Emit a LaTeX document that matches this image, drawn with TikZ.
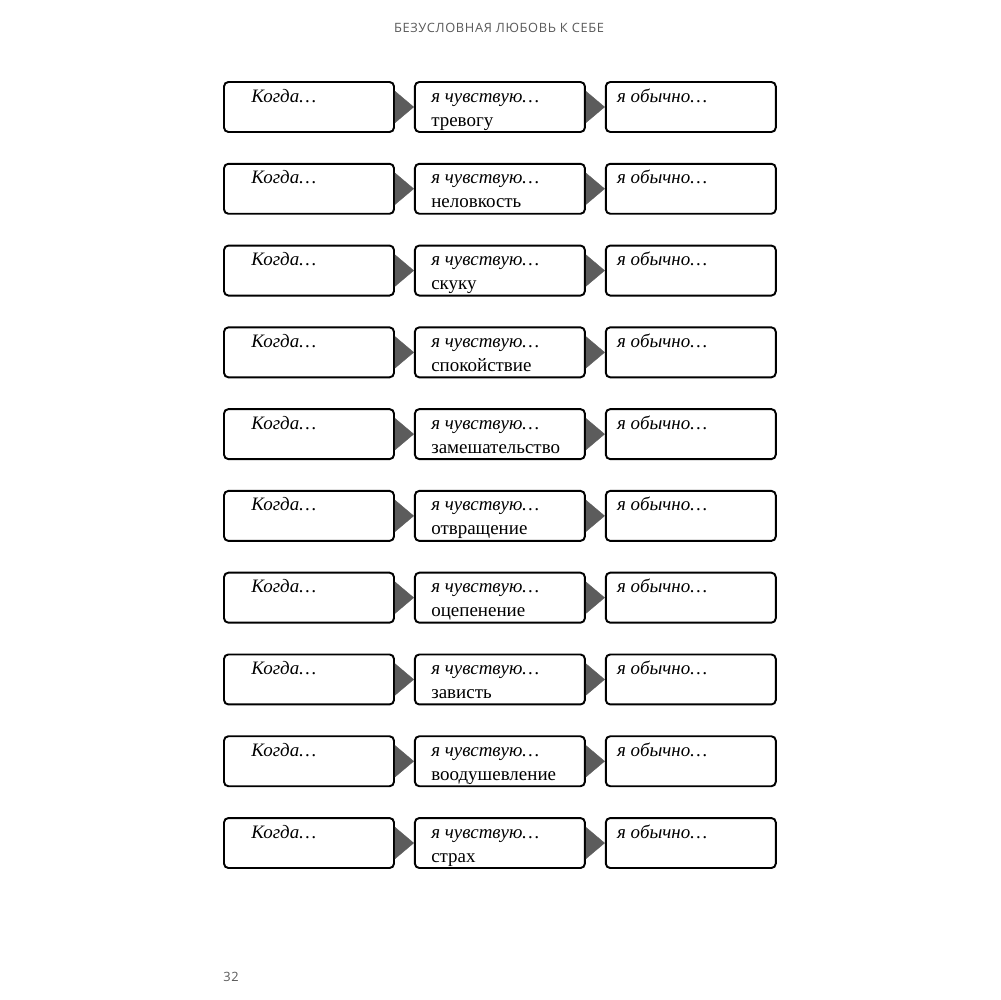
\documentclass[tikz,border=0pt]{standalone}
\usepackage{fontspec}
\setmainfont{Liberation Serif}
\newfontfamily\headfont[LetterSpace=5]{Open Sans}
\usetikzlibrary{arrows.meta,positioning}
\definecolor{headgray}{HTML}{5A5A5A}
\definecolor{arrowgray}{HTML}{5C5C5C}

\begin{document}
\begin{tikzpicture}[
    x=0.02cm, y=-0.02cm,
    node distance=0.38cm,
    box/.style={draw, line width=1.1pt, rounded corners=2.5pt, minimum width=3.4cm, minimum height=1cm, inner sep=0pt},
    lead/.style={anchor=base west, inner sep=0pt, font=\fontsize{10.8}{13}\selectfont\itshape},
    feel/.style={anchor=base west, inner sep=0pt, font=\fontsize{10.8}{13}\selectfont},
    link/.style={-{Triangle[length=0.38cm, width=0.64cm]}, line width=0.2pt, arrowgray}
]
\fill[white] (0,0) rectangle (1000,1000);
\useasboundingbox (0,0) rectangle (1000,1000);
% running head and page number
\node[anchor=base, inner sep=0pt, font=\headfont\fontsize{7.3}{9}\selectfont, text=headgray] (head) at (499,33) {БЕЗУСЛОВНАЯ ЛЮБОВЬ К СЕБЕ};
\node[anchor=base west, inner sep=0pt, font=\headfont\fontsize{7.3}{9}\selectfont, text=headgray] (pagenum) at (223,981) {32};
% one row per feeling
\foreach \feeling [count=\i from 0] in {тревогу, неловкость, скуку, спокойствие, замешательство, отвращение, оцепенение, зависть, воодушевление, страх} {
    \node[box] (when\i) at (309, 107+\i*81.78) {};
    \node[box, right=of when\i] (feel\i) {};
    \node[box, right=of feel\i] (usual\i) {};
    \draw[link] (when\i) -- (feel\i);
    \draw[link] (feel\i) -- (usual\i);
    \node[lead] (whentxt\i) at ([xshift=0.56cm, yshift=-0.42cm]when\i.north west) {Когда…};
    \node[lead] (feeltxt\i) at ([xshift=0.34cm, yshift=-0.42cm]feel\i.north west) {я чувствую…};
    \node[feel] (feelword\i) at ([xshift=0.34cm, yshift=-0.9cm]feel\i.north west) {\feeling};
    \node[lead] (usualtxt\i) at ([xshift=0.24cm, yshift=-0.42cm]usual\i.north west) {я обычно…};
}
\end{tikzpicture}
\end{document}
